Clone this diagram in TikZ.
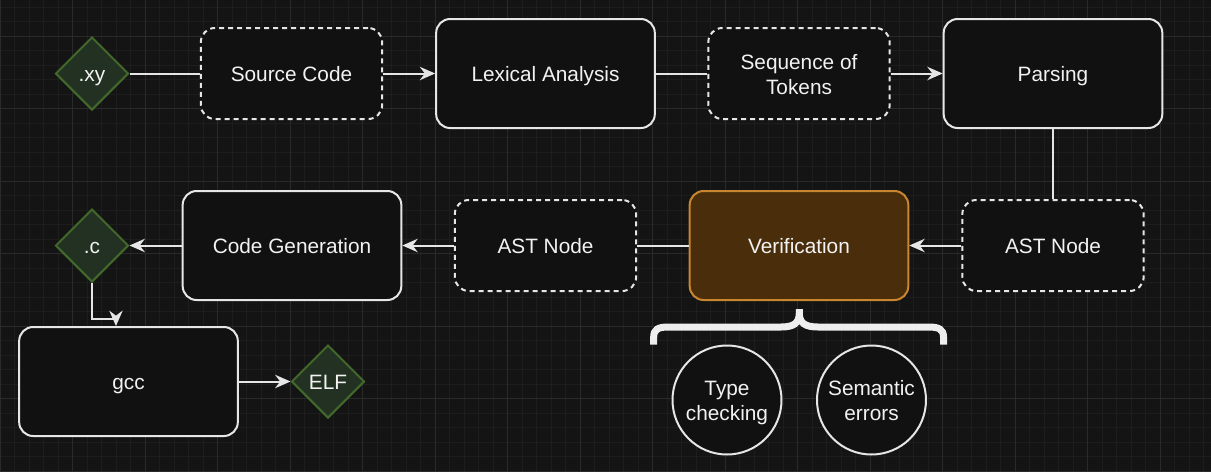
\documentclass[tikz,border=0pt]{standalone}
\usepackage{fontspec}
\setmainfont{Liberation Sans}
\usetikzlibrary{shapes.geometric,arrows.meta}
\definecolor{bgc}{HTML}{141414}
\definecolor{gminor}{HTML}{1D1D1D}
\definecolor{gmajor}{HTML}{2A2A2A}
\definecolor{nfill}{HTML}{111111}
\definecolor{linec}{HTML}{E6E6E6}
\definecolor{txt}{HTML}{F2F2F2}
\definecolor{gfill}{HTML}{223121}
\definecolor{gline}{HTML}{42692B}
\definecolor{vfill}{HTML}{4A2E0C}
\definecolor{vline}{HTML}{C8862F}
\definecolor{bracec}{HTML}{EEEEEE}
\newcommand\diafont{\fontsize{15.6pt}{18.75pt}\selectfont}
\begin{document}
\begin{tikzpicture}[x=0.75pt,y=-0.75pt,
  txtset/.style={text=txt, font=\diafont, text height=12.4pt, text depth=0pt},
  twolines/.style={text height=31.15pt},
  box/.style={draw=linec, fill=nfill, line width=1.5pt, rounded corners=10.5pt, align=center, inner sep=0pt, txtset},
  bigbox/.style={box, minimum width=164pt, minimum height=81.75pt},
  dbox/.style={box, dash pattern=on 3.75pt off 3pt, minimum width=136pt, minimum height=68.25pt},
  filenode/.style={diamond, aspect=1, draw=gline, fill=gfill, line width=1.5pt, minimum width=54.75pt, minimum height=54.75pt, inner sep=0pt, txtset},
  checknode/.style={circle, draw=linec, fill=nfill, line width=1.5pt, minimum size=81.75pt, inner sep=0pt, align=center, txtset, twolines},
  conn/.style={draw=linec, line width=1.5pt},
  arr/.style={conn, -{Stealth[length=11.5pt,width=10pt,inset=3.75pt]}},
  gridminor/.style={draw=gminor, line width=0.75pt},
  gridmajor/.style={draw=gmajor, line width=0.75pt}
]
\useasboundingbox (0,0) rectangle (1211,472);
\fill[bgc] (0,0) rectangle (1211,472);
% grid
\foreach \i in {0,...,83}{\draw[gridminor] ({\i*14.5},0) -- ({\i*14.5},472);}
\foreach \j in {0,...,32}{\draw[gridminor] (0,{7+\j*14.5}) -- (1211,{7+\j*14.5});}
\foreach \i in {0,...,16}{\draw[gridmajor] ({\i*72.5},0) -- ({\i*72.5},472);}
\foreach \j in {0,...,6}{\draw[gridmajor] (0,{36+\j*72.5}) -- (1211,{36+\j*72.5});}

% nodes
\node[filenode] (xy) at (92,73.5) {.xy};
\node[dbox] (src) at (291.5,73.5) {Source Code};
\node[bigbox] (lex) at (545.5,73.5) {Lexical Analysis};
\node[dbox, twolines] (seq) at (799,73.5) {Sequence of\\Tokens};
\node[bigbox] (pars) at (1053,73.5) {Parsing};
\node[dbox] (astr) at (1053,245.5) {AST Node};
\node[bigbox, draw=vline, fill=vfill] (ver) at (799,245.5) {Verification};
\node[dbox] (astl) at (545.5,245.5) {AST Node};
\node[bigbox] (cg) at (292,245.5) {Code Generation};
\node[filenode] (cfile) at (92,245.5) {.c};
\node[bigbox] (gcc) at (128.5,381.5) {gcc};
\node[filenode] (elf) at (328,381.5) {ELF};
\node[checknode] (type) at (727,400) {Type\\checking};
\node[checknode] (sem) at (871.5,400) {Semantic\\errors};

% brace
\draw[bracec, line width=5.25pt]
  (653.7,344.5) -- (653.7,337) .. controls (653.7,329.5) and (658,327) .. (668,327)
  -- (781,327) .. controls (794,327) and (799.3,323) .. (799.3,313) -- (799.3,309)
  (799.3,313) .. controls (799.3,323) and (805,327) .. (818,327)
  -- (929,327) .. controls (939,327) and (943.5,329.5) .. (943.5,337) -- (943.5,344.5);

% connectors
\draw[conn] (xy) -- (src);
\draw[arr] (src) -- (lex);
\draw[conn] (lex) -- (seq);
\draw[arr] (seq) -- (pars);
\draw[conn] (pars) -- (astr);
\draw[arr] (astr) -- (ver);
\draw[conn] (ver) -- (astl);
\draw[arr] (astl) -- (cg);
\draw[arr] (cg) -- (cfile);
\draw[arr] (cfile.south) -- ++(0,36) -| ([xshift=-9.4pt]gcc.north);
\draw[arr] (gcc) -- (elf);
\end{tikzpicture}
\end{document}
